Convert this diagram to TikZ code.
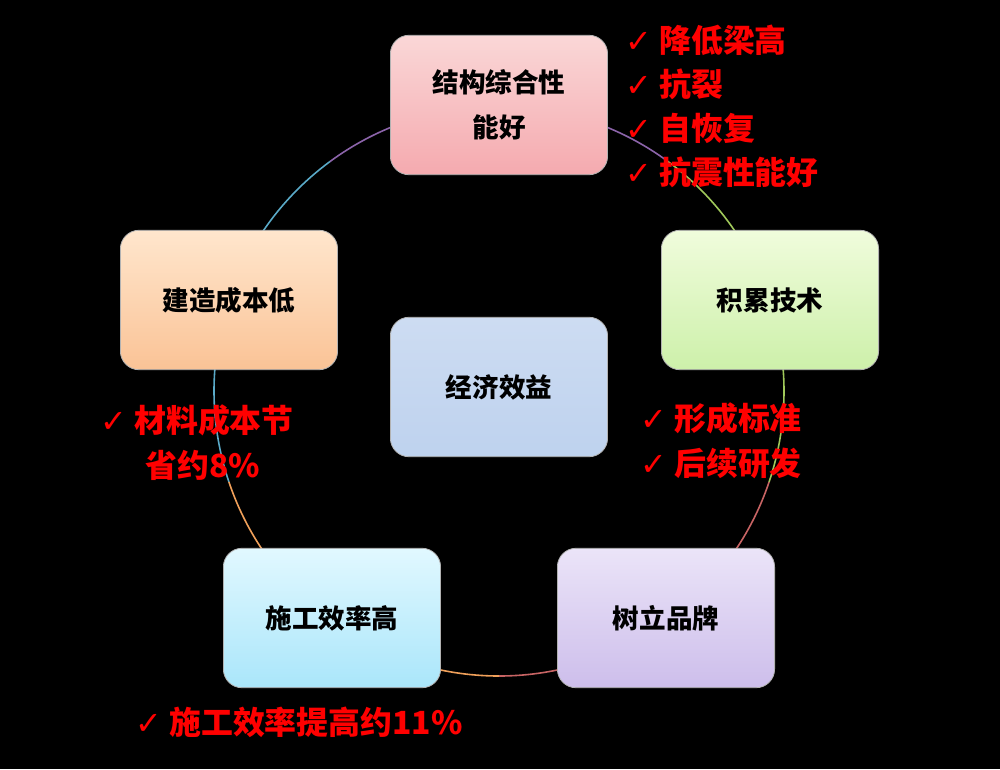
\documentclass[tikz,border=0pt]{standalone}
\usepackage{fontspec}
\setmainfont{Noto Sans CJK SC}
\newfontfamily\chk{DejaVu Sans}
\begin{document}
\begin{tikzpicture}[x=0.0264583cm,y=-0.0264583cm,
  box/.style={rounded corners=14pt,minimum width=218*0.75pt,minimum height=140*0.75pt,
    inner sep=0pt,align=center,font=\fontsize{20}{34}\selectfont\bfseries,text=black,draw=black!30,line width=0.6pt},
  red/.style={anchor=west,text=red,font=\fontsize{24}{33}\selectfont\bfseries,inner sep=0pt,align=left}]
\fill[black] (0,0) rectangle (1000,769);
\useasboundingbox (0,0) rectangle (1000,769);
\coordinate (c) at (499,391);
\draw[line width=1.2pt,color={rgb,255:red,200;green,100;blue,100}] ([shift={(90:285)}]c) arc[start angle=90,end angle=18.6,radius=285];
\draw[line width=1.2pt,color={rgb,255:red,160;green,200;blue,90}] ([shift={(18.6:285)}]c) arc[start angle=18.6,end angle=-53.6,radius=285];
\draw[line width=1.2pt,color={rgb,255:red,140;green,100;blue,170}] ([shift={(-53.6:285)}]c) arc[start angle=-53.6,end angle=-126.4,radius=285];
\draw[line width=1.2pt,color={rgb,255:red,90;green,170;blue,200}] ([shift={(-126.4:285)}]c) arc[start angle=-126.4,end angle=-198.6,radius=285];
\draw[line width=1.2pt,color={rgb,255:red,240;green,160;blue,90}] ([shift={(161.4:285)}]c) arc[start angle=161.4,end angle=90,radius=285];
\node[box,top color={rgb,255:red,250;green,215;blue,215},bottom color={rgb,255:red,245;green,170;blue,175}] (t) at (499,105) {结构综合性\\能好};
\node[box,top color={rgb,255:red,240;green,252;blue,220},bottom color={rgb,255:red,205;green,240;blue,170}] (r) at (770,300) {积累技术};
\node[box,top color={rgb,255:red,205;green,220;blue,242},bottom color={rgb,255:red,190;green,210;blue,238}] (m) at (499,387) {经济效益};
\node[box,top color={rgb,255:red,235;green,228;blue,248},bottom color={rgb,255:red,205;green,190;blue,235}] (br) at (666,618) {树立品牌};
\node[box,top color={rgb,255:red,225;green,248;blue,255},bottom color={rgb,255:red,170;green,230;blue,250}] (bl) at (332,618) {施工效率高};
\node[box,top color={rgb,255:red,255;green,230;blue,205},bottom color={rgb,255:red,250;green,195;blue,150}] (l) at (229,300) {建造成本低};
\node[red] (t1) at (625,40) {{\chk ✓} 降低梁高};
\node[red] (t2) at (625,84) {{\chk ✓} 抗裂};
\node[red] (t3) at (625,128) {{\chk ✓} 自恢复};
\node[red] (t4) at (625,172) {{\chk ✓} 抗震性能好};
\node[red] (l1) at (100,420) {{\chk ✓} 材料成本节};
\node[red] (l2) at (145,465) {省约8\%};
\node[red] (r1) at (640,418) {{\chk ✓} 形成标准};
\node[red] (r2) at (640,463) {{\chk ✓} 后续研发};
\node[red] (b1) at (135,722) {{\chk ✓} 施工效率提高约11\%};
\end{tikzpicture}
\end{document}
